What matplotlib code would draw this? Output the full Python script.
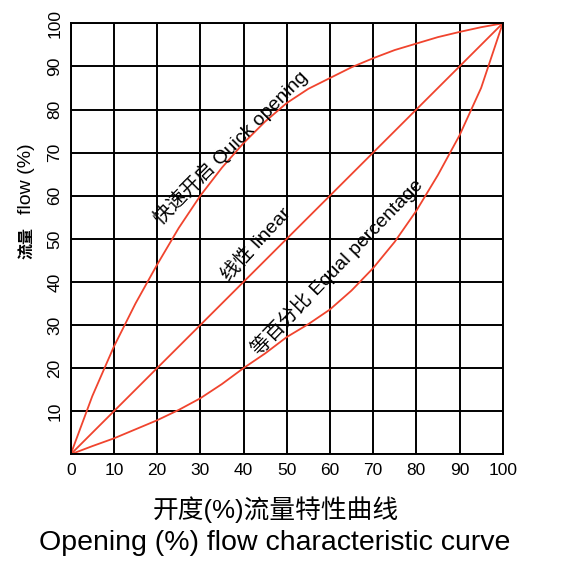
import matplotlib
matplotlib.use("Agg")
import matplotlib.pyplot as plt

#latin glyphs from Liberation, chinese ones fall through to Noto CJK
plt.rcParams['font.family'] = ['Liberation Sans', 'Noto Sans CJK SC', 'DejaVu Sans']

#values
opening = [0, 5, 10, 15, 20, 25, 30, 35, 40, 45, 50, 55, 60, 65, 70, 75, 80, 85, 90, 95, 100]
quick_flow = [0, 13.5, 25, 35, 44, 52.5, 60, 66.5, 72.2, 77.2, 81.5, 84.8, 87.3, 89.8, 91.9, 93.8, 95.3, 96.8, 98, 99.1, 100]
linear_flow = [0, 5, 10, 15, 20, 25, 30, 35, 40, 45, 50, 55, 60, 65, 70, 75, 80, 85, 90, 95, 100]
equal_flow = [0, 1.9, 3.7, 5.8, 7.9, 10.3, 13, 16.3, 20, 23.4, 27.2, 30.2, 33.6, 38, 43.2, 49.3, 56.5, 64.8, 74, 85, 100]

ticks = [0, 10, 20, 30, 40, 50, 60, 70, 80, 90, 100]

#curve labels: text, x, y, angle
curve_labels = [
    ("快速开启 Quick opening", 37.0, 71.3, 45),
    ("线性 linear", 43.0, 48.6, 47),
    ("等百分比 Equal percentage", 61.6, 43.6, 46),
]

RED = "#f0442e"

fig = plt.figure(figsize=(5.62, 5.62), dpi=100)
ax = fig.add_axes([0.1258, 0.1916, 0.8945 - 0.1258, 0.9585 - 0.1916])

ax.plot(opening, quick_flow, color=RED, lw=1.3)
ax.plot(opening, linear_flow, color=RED, lw=1.3)
ax.plot(opening, equal_flow, color=RED, lw=1.3)

ax.set_xlim(0, 100)
ax.set_ylim(0, 100)
ax.set_xticks(ticks)
ax.set_yticks(ticks)
ax.set_xticklabels([str(t) for t in ticks], fontsize=12.5)
ax.set_yticklabels([str(t) if t > 0 else "" for t in ticks], fontsize=12.5, rotation=90, va="center")
ax.tick_params(axis="x", length=0, pad=6)
ax.tick_params(axis="y", length=0, pad=6)
ax.grid(True, color="black", lw=1.4)
ax.set_axisbelow(True)
for sp in ax.spines.values():
    sp.set_linewidth(1.4)

for text, x, y, ang in curve_labels:
    ax.text(x, y, text, rotation=ang, ha="center", va="center",
            fontsize=14, rotation_mode="anchor")

#y label: bold chinese part, regular latin part
fig.text(0.047, 0.567, "流量", rotation=90, ha="center", va="center",
         fontsize=11.5, fontweight="bold")
fig.text(0.047, 0.682, "flow (%)", rotation=90, ha="center", va="center", fontsize=14)

fig.text(0.49, 0.093, "开度(%)流量特性曲线", ha="center", va="center", fontsize=18.5)
fig.text(0.488, 0.034, "Opening (%) flow characteristic curve", ha="center", va="center", fontsize=20.5)

fig.savefig("out.png", dpi=100)
